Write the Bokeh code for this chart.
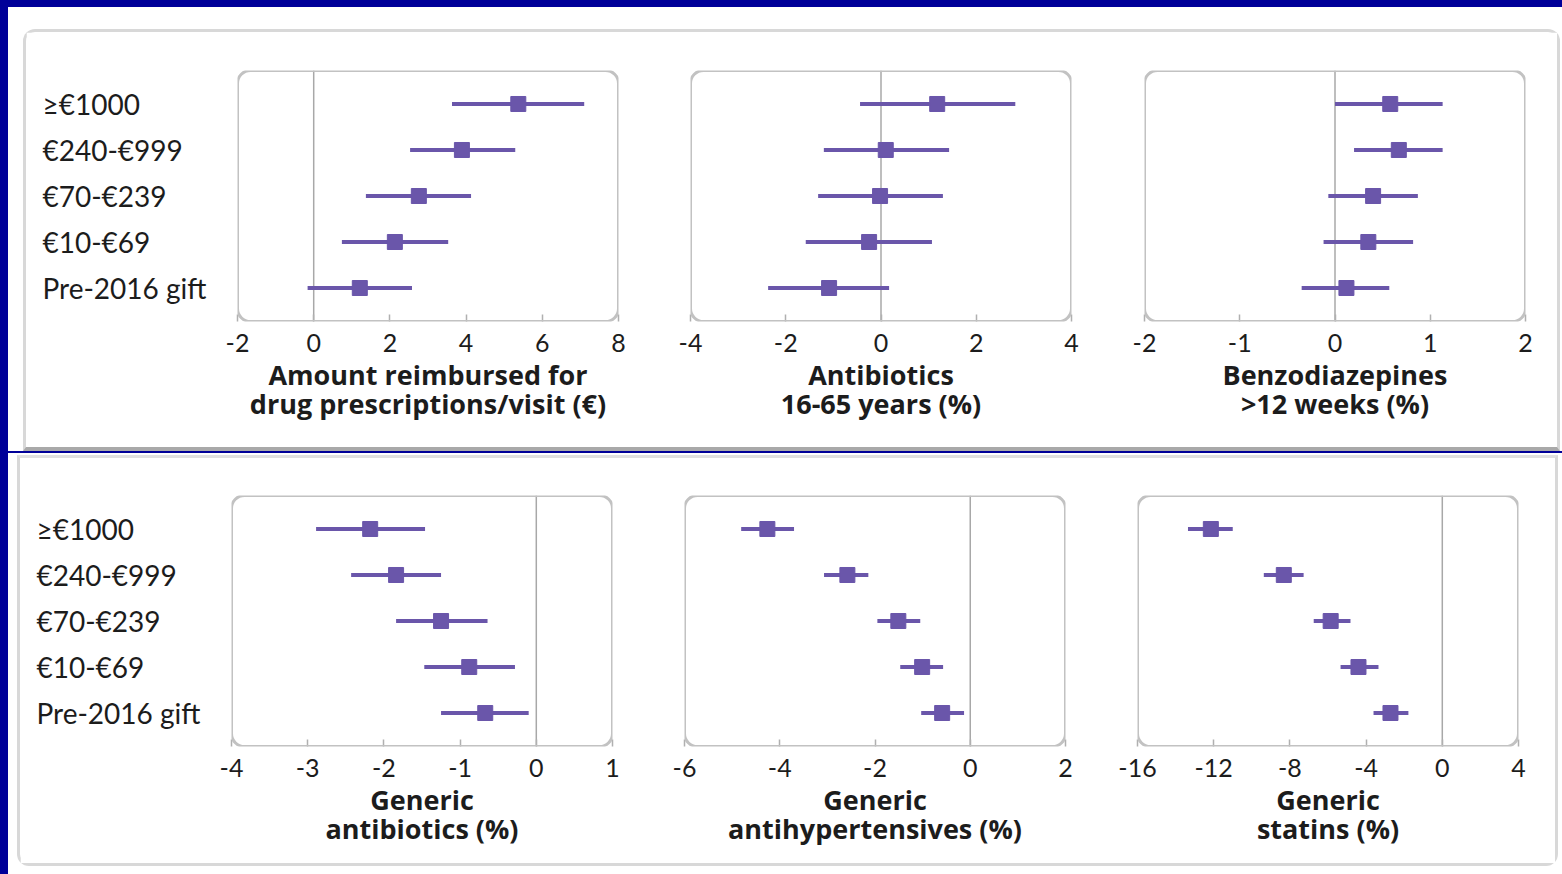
from bokeh.plotting import figure
from bokeh.models import (Range1d, FactorRange, Span, BoxAnnotation,
                          ColumnDataSource, FixedTicker, Div, Row, Column)
from bokeh.core.properties import value
from bokeh.embed import file_html
from bokeh.resources import INLINE

# ---------------- data ----------------
categories = ["≥€1000", "€240-€999", "€70-€239", "€10-€69", "Pre-2016 gift"]

reimb_est = [5.37, 3.89, 2.76, 2.13, 1.21]
reimb_lo = [3.63, 2.53, 1.37, 0.74, -0.16]
reimb_hi = [7.10, 5.29, 4.13, 3.53, 2.58]

abx_est = [1.18, 0.10, -0.02, -0.25, -1.09]
abx_lo = [-0.44, -1.20, -1.32, -1.58, -2.37]
abx_hi = [2.82, 1.43, 1.30, 1.07, 0.17]

benzo_est = [0.58, 0.67, 0.40, 0.35, 0.12]
benzo_lo = [0.00, 0.20, -0.07, -0.12, -0.35]
benzo_hi = [1.13, 1.13, 0.87, 0.82, 0.57]

gen_abx_est = [-2.18, -1.84, -1.25, -0.88, -0.67]
gen_abx_lo = [-2.89, -2.43, -1.84, -1.47, -1.25]
gen_abx_hi = [-1.46, -1.25, -0.64, -0.28, -0.10]

gen_ahyp_est = [-4.26, -2.58, -1.51, -1.01, -0.59]
gen_ahyp_lo = [-4.81, -3.07, -1.95, -1.47, -1.03]
gen_ahyp_hi = [-3.70, -2.14, -1.05, -0.57, -0.13]

gen_stat_est = [-12.15, -8.32, -5.86, -4.40, -2.72]
gen_stat_lo = [-13.35, -9.37, -6.75, -5.34, -3.61]
gen_stat_hi = [-11.00, -7.28, -4.82, -3.35, -1.78]

top_ticks = [[-2, 0, 2, 4, 6, 8], [-4, -2, 0, 2, 4], [-2, -1, 0, 1, 2]]
bottom_ticks = [[-4, -3, -2, -1, 0, 1], [-6, -4, -2, 0, 2], [-16, -12, -8, -4, 0, 4]]

top_titles = ["Amount reimbursed for\ndrug prescriptions/visit (€)",
              "Antibiotics\n16-65 years (%)",
              "Benzodiazepines\n>12 weeks (%)"]
bottom_titles = ["Generic\nantibiotics (%)",
                 "Generic\nantihypertensives (%)",
                 "Generic\nstatins (%)"]

# ---------------- style ----------------
PURPLE = "#6a56aa"
NAVY = "#000099"
FRAME_W, FRAME_H = 381, 251
TEXT = "#1c1c1c"


def y_factor_range():
    return FactorRange(factors=list(reversed(categories)),
                       range_padding=0.0913, range_padding_units="percent")


def label_column(width, b_top, b_bottom, x_text):
    src = ColumnDataSource(dict(cat=categories))
    p = figure(frame_width=width, frame_height=FRAME_H,
               x_range=Range1d(0, width), y_range=y_factor_range(),
               output_backend="svg", toolbar_location=None,
               min_border_left=0, min_border_right=0,
               min_border_top=b_top, min_border_bottom=b_bottom,
               background_fill_color="white", border_fill_color="white")
    p.outline_line_color = None
    p.axis.visible = False
    p.grid.visible = False
    p.text(x=x_text, y="cat", text="cat", source=src,
           text_align="left", text_baseline="middle",
           text_font=value("Lato"), text_font_size="28px", text_color=TEXT)
    return p


def panel(est, lo, hi, ticks, title, b_left, b_right, b_top, b_bottom):
    src = ColumnDataSource(dict(cat=categories, est=est, lo=lo, hi=hi))
    p = figure(frame_width=FRAME_W, frame_height=FRAME_H,
               x_range=Range1d(ticks[0], ticks[-1]), y_range=y_factor_range(),
               output_backend="svg", toolbar_location=None,
               min_border_left=b_left, min_border_right=b_right,
               min_border_top=b_top, min_border_bottom=b_bottom,
               background_fill_color="white", border_fill_color="white")
    p.outline_line_color = None
    p.xgrid.visible = False
    p.ygrid.visible = False
    p.yaxis.visible = False

    p.add_layout(BoxAnnotation(fill_alpha=0, line_color="#c2c2c2", line_alpha=1.0,
                               line_width=3, border_radius=13, level="overlay"))
    p.add_layout(Span(location=0, dimension="height", line_color="#a8a8a8", line_width=1.5,
                      level="underlay"))

    p.segment(x0="lo", y0="cat", x1="hi", y1="cat", source=src,
              line_color=PURPLE, line_width=4)
    p.scatter(x="est", y="cat", source=src, marker="square", size=15,
              fill_color=PURPLE, line_color=PURPLE)

    ax = p.xaxis[0]
    ax.ticker = FixedTicker(ticks=ticks)
    ax.major_label_overrides = {t: str(t) for t in ticks}
    ax.axis_line_color = None
    ax.major_tick_in = 7
    ax.major_tick_out = 0
    ax.major_tick_line_color = "#b0b0b0"
    ax.major_tick_line_width = 1.5
    ax.minor_tick_line_color = None
    ax.major_label_standoff = 12
    ax.major_label_text_font = "Lato"
    ax.major_label_text_font_size = "25px"
    ax.major_label_text_color = TEXT
    ax.axis_label = title
    ax.axis_label_standoff = 1
    ax.axis_label_text_font = "Open Sans"
    ax.axis_label_text_font_style = "bold"
    ax.axis_label_text_font_size = "27px"
    ax.axis_label_text_color = TEXT
    ax.axis_label_text_line_height = 0.8
    return p


tl = label_column(181, 38, 126, 16)
t1 = panel(reimb_est, reimb_lo, reimb_hi, top_ticks[0], top_titles[0], 30, 36, 38, 126)
t2 = panel(abx_est, abx_lo, abx_hi, top_ticks[1], top_titles[1], 36, 37, 38, 126)
t3 = panel(benzo_est, benzo_lo, benzo_hi, top_ticks[2], top_titles[2], 36, 32, 38, 126)

bl = label_column(181, 37, 117, 16)
b1 = panel(gen_abx_est, gen_abx_lo, gen_abx_hi, bottom_ticks[0], bottom_titles[0], 30, 36, 37, 117)
b2 = panel(gen_ahyp_est, gen_ahyp_lo, gen_ahyp_hi, bottom_ticks[1], bottom_titles[1], 36, 36, 37, 117)
b3 = panel(gen_stat_est, gen_stat_lo, gen_stat_hi, bottom_ticks[2], bottom_titles[2], 36, 37, 37, 117)

top_card = Row(children=[tl, t1, t2, t3], spacing=0, margin=(22, 0, 0, 15),
               styles={"border": "3px solid #d8d8d8", "border-bottom": "4px solid #a9a9a9",
                       "border-radius": "12px 12px 0 0", "background-color": "white"})
blue_line = Div(text="", width=1554, height=2, margin=(0, 0, 0, 0),
                styles={"background-color": NAVY})
bottom_card = Row(children=[bl, b1, b2, b3], spacing=0, margin=(2, 0, 0, 9),
                  styles={"border": "3px solid #d8d8d8", "border-top": "3px solid #e0e0e0",
                          "border-radius": "0 0 12px 12px", "background-color": "white"})

content = Column(children=[top_card, blue_line, bottom_card], spacing=0,
                 styles={"background-color": "white"})
top_band = Div(text="", width=1562, height=7, margin=(0, 0, 0, 0),
               styles={"background-color": NAVY})
left_band = Div(text="", width=8, height=867, margin=(0, 0, 0, 0),
                styles={"background-color": NAVY})

layout = Column(children=[top_band, Row(children=[left_band, content], spacing=0)], spacing=0,
                styles={"background-color": "white"})

open("out.html", "w").write(file_html(layout, INLINE))
